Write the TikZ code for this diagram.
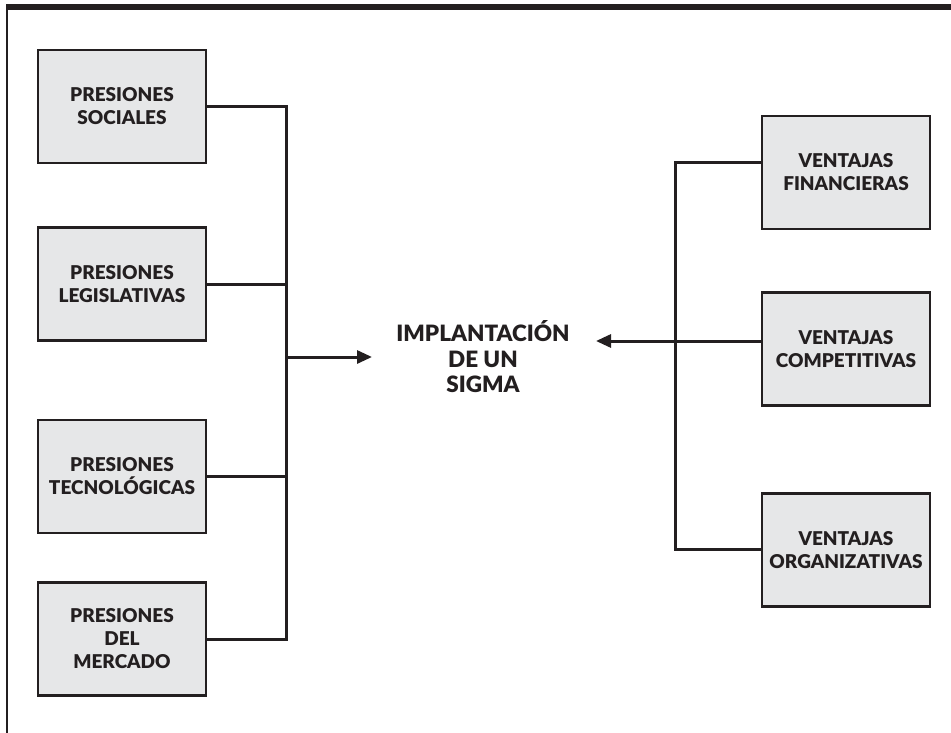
\documentclass[tikz,border=0pt]{standalone}
\usepackage{fontspec}
\setmainfont{Lato}[BoldFont={Lato Black}]
\usetikzlibrary{arrows.meta}
\definecolor{ink}{HTML}{231F20}
\definecolor{boxfill}{HTML}{E6E7E8}
\tikzset{
  factor/.style={draw=ink, line width=2.5pt, fill=boxfill, minimum width=168pt, minimum height=113pt,
    align=center, font=\fontsize{19}{23}\selectfont\bfseries, text=ink, inner sep=0pt},
  conn/.style={draw=ink, line width=3pt},
  arr/.style={conn, -{Triangle[length=15pt,width=13pt]}},
}
\begin{document}
\begin{tikzpicture}[x=1pt,y=-1pt]
\useasboundingbox (0,0) rectangle (951,733);
% frame
\fill[ink] (6,4) rectangle (951,10);
\draw[ink, line width=1.4pt] (7,10) -- (7,733);
% left boxes
\node[factor] (ps) at (122,106.5) {PRESIONES\\SOCIALES};
\node[factor] (pl) at (122,284) {PRESIONES\\LEGISLATIVAS};
\node[factor] (pt) at (122,476.5) {PRESIONES\\TECNOLÓGICAS};
\node[factor] (pm) at (122,639) {PRESIONES\\DEL\\MERCADO};
% right boxes
\node[factor] (vf) at (846,172.5) {VENTAJAS\\FINANCIERAS};
\node[factor] (vc) at (846,349) {VENTAJAS\\COMPETITIVAS};
\node[factor] (vo) at (846,550) {VENTAJAS\\ORGANIZATIVAS};
% center
\node[align=center, font=\fontsize{22.5}{25.5}\selectfont\bfseries, text=ink, inner sep=0pt] (impl) at (483,357) {IMPLANTACIÓN\\DE UN\\SIGMA};
% left bus
\coordinate (lt) at (286,106.5);
\coordinate (lb) at (286,639);
\coordinate (lm) at (286,357);
\draw[conn, line join=miter] (ps.east) -- (lt) -- (lb) -- (pm.east);
\draw[conn] (pl.east) -- (pl.east -| lt);
\draw[conn] (pt.east) -- (pt.east -| lt);
\draw[arr] (lm) -- (372,357);
% right bus
\coordinate (rt) at (675,163);
\coordinate (rb) at (675,549);
\draw[conn, line join=miter] (vf.west |- rt) -- (rt) -- (rb) -- (vo.west |- rb);
\draw[arr] (vc.west |- 0,341) -- (596,341);
\end{tikzpicture}
\end{document}
